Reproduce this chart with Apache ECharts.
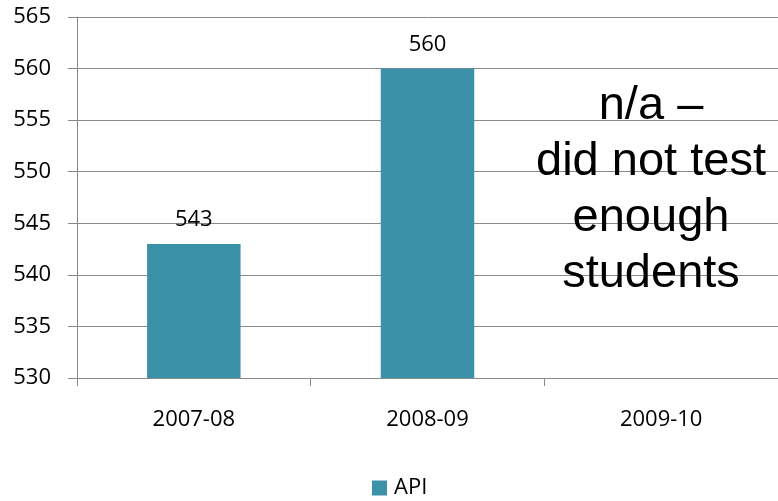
<!DOCTYPE html>
<html>
<head>
<meta charset="utf-8">
<script src="https://cdn.jsdelivr.net/npm/echarts@6/dist/echarts.min.js"></script>
<style>
html,body{margin:0;padding:0;background:#fff;}
#chart{width:778px;height:501px;}
</style>
</head>
<body>
<div id="chart"></div>
<script>
const categories = ['2007-08', '2008-09', '2009-10'];
const apiValues = [543, 560, null];
const yTicks = { min: 530, max: 565, interval: 5 };
const seriesName = 'API';
const noteLines = ['n/a \u2013', 'did not test', 'enough', 'students'];

const chart = echarts.init(document.getElementById('chart'), null, { renderer: 'canvas' });
const font = 'Open Sans';
const gray = '#898989';

chart.setOption({
  animation: false,
  backgroundColor: '#ffffff',
  textStyle: { fontFamily: font },
  grid: { left: 77, right: 0, top: 17, bottom: 123, containLabel: false },
  legend: {
    data: [seriesName],
    top: 472,
    left: 367,
    icon: 'rect',
    itemWidth: 15,
    itemHeight: 15,
    itemGap: 8,
    textStyle: { fontFamily: font, fontSize: 22, color: '#000', padding: [0, 0, 0, 2] }
  },
  xAxis: {
    type: 'category',
    data: categories,
    axisLine: { show: true, lineStyle: { color: gray, width: 1 } },
    axisTick: { show: true, length: 8, alignWithLabel: false, lineStyle: { color: gray } },
    axisLabel: { margin: 31, fontFamily: font, fontSize: 22, color: '#000' },
    splitLine: { show: false }
  },
  yAxis: {
    type: 'value',
    min: yTicks.min,
    max: yTicks.max,
    interval: yTicks.interval,
    axisLine: { show: true, lineStyle: { color: gray, width: 1 } },
    axisTick: { show: true, length: 9, lineStyle: { color: gray } },
    axisLabel: { margin: 26, fontFamily: font, fontSize: 22, color: '#000' },
    splitLine: { show: true, lineStyle: { color: gray, width: 1 } }
  },
  series: [{
    name: seriesName,
    type: 'bar',
    data: apiValues,
    barWidth: '40%',
    itemStyle: { color: '#3a91a8' },
    label: {
      show: true,
      position: 'top',
      distance: 13,
      fontFamily: font,
      fontSize: 22,
      color: '#000'
    }
  }],
  graphic: [{
    type: 'text',
    x: 651,
    y: 190,
    style: {
      text: noteLines.join('\n'),
      fontFamily: 'Liberation Sans',
      fontSize: 47,
      lineHeight: 56,
      fill: '#000',
      align: 'center',
      verticalAlign: 'middle'
    },
    z: 100
  }]
});
</script>
</body>
</html>
